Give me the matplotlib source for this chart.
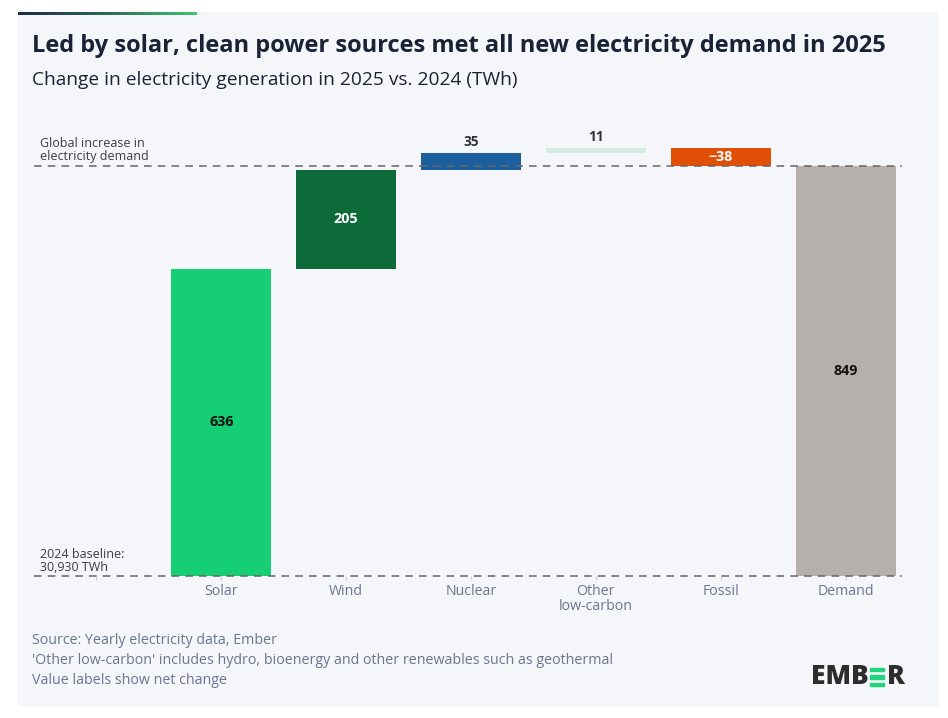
import numpy as np
import matplotlib.pyplot as plt
from matplotlib.patches import Rectangle
from matplotlib.colors import LinearSegmentedColormap

# data
categories = ["", "Solar", "Wind", "Nuclear", "Other\nlow-carbon", "Fossil", "Demand"]
changes = [636, 205, 35, 11, -38]
demand = 849
colors = ["#16cf74", "#0d6b3a", "#1c5f9e", "#d3ece0", "#e04f04", "#b6b0ac"]
label_colors = ["#111111", "#ffffff", "#333333", "#333333", "#ffffff", "#111111"]
label_inside = [True, True, False, False, True, True]

W, H = 948, 718
fig = plt.figure(figsize=(W / 100, H / 100), dpi=100)
fig.patch.set_facecolor("white")

FONT = "Open Sans"
bg = "#f5f6fa"

# panel background
fig.patches.append(Rectangle((18 / W, 1 - 705 / H), (937 - 18) / W, (705 - 12) / H,
                             transform=fig.transFigure, color=bg, zorder=-5))
# gradient accent line on top
grad_ax = fig.add_axes([18 / W, 1 - 15 / H, (197 - 18) / W, 3 / H])
cmap = LinearSegmentedColormap.from_list("acc", ["#1c2a4a", "#2e6a55", "#3cc76f"])
grad_ax.imshow(np.linspace(0, 1, 256)[None, :], aspect="auto", cmap=cmap)
grad_ax.axis("off")

fig.text(32 / W, 1 - 46 / H, "Led by solar, clean power sources met all new electricity demand in 2025",
         fontsize=17, fontweight="bold", color="#1a2236", va="center", family=FONT)
fig.text(32 / W, 1 - 80 / H, "Change in electricity generation in 2025 vs. 2024 (TWh)",
         fontsize=13.8, color="#1a2236", va="center", family=FONT)

# axes: baseline at y px 576, demand line at 166
top_px, base_px, dem_px = 120, 576, 166
scale = (base_px - dem_px) / demand
ax = fig.add_axes([34 / W, 1 - base_px / H, 874 / W, (base_px - top_px) / H])
ax.set_facecolor("none")
ax.set_xlim(-0.5, 6.5)
ax.set_ylim(0, (base_px - top_px) / scale)
for s in ax.spines.values():
    s.set_visible(False)
ax.set_yticks([])

x = np.arange(len(categories))
bottoms = []
cum = 0
for v in changes:
    bottoms.append(min(cum, cum + v))
    cum += v
heights = [abs(v) for v in changes] + [demand]
bottoms.append(0)
values = changes + [demand]

ax.bar(x[1:], heights, bottom=bottoms, width=0.8, color=colors, zorder=2)

for i, (v, b, h) in enumerate(zip(values, bottoms, heights)):
    txt = f"{v}" if v >= 0 else f"\u2212{abs(v)}"
    if label_inside[i]:
        ax.text(x[i + 1], b + h / 2, txt, ha="center", va="center", fontsize=10.3,
                fontweight="bold", color=label_colors[i], family=FONT, zorder=4)
    else:
        ax.text(x[i + 1], b + h + 8, txt, ha="center", va="bottom", fontsize=9.8,
                fontweight="bold", color=label_colors[i], family=FONT, zorder=4)

# reference dashed lines
for yv in (0, demand):
    ax.plot([-0.5, 6.45], [yv, yv], color="#666666", lw=1.1, ls=(0, (5, 4)), zorder=3,
            clip_on=False)

ax.set_xticks(x)
ax.set_xticklabels(categories, fontsize=10.2, color="#6b7590", family=FONT, linespacing=0.95)
ax.tick_params(axis="x", length=3, color="#c8ccd6", pad=3)

ax.text(-0.45, demand + 7, "Global increase in\nelectricity demand", fontsize=9,
        color="#3c3c3c", va="bottom", ha="left", family=FONT, linespacing=1.0)
ax.text(-0.45, 5, "2024 baseline:\n30,930 TWh", fontsize=9,
        color="#3c3c3c", va="bottom", ha="left", family=FONT, linespacing=1.0)

# footer
footer = ["Source: Yearly electricity data, Ember",
          "'Other low-carbon' includes hydro, bioenergy and other renewables such as geothermal",
          "Value labels show net change"]
for k, line in enumerate(footer):
    fig.text(32 / W, 1 - (641 + 20 * k) / H, line, fontsize=10.25, color="#6b7590",
             va="center", family=FONT)

# logo
fig.text(811 / W, 1 - 677 / H, "EMB", fontsize=19, fontweight="heavy", color="#2d2d2d",
         va="center", ha="left", family=FONT)
for dy in (-7.5, 0, 7.5):
    fig.patches.append(Rectangle((870 / W, 1 - (677 + dy + 1.7) / H), 14 / W, 3.5 / H,
                                 transform=fig.transFigure, color="#1fd47a", zorder=3))
fig.text(887 / W, 1 - 677 / H, "R", fontsize=19, fontweight="heavy", color="#2d2d2d",
         va="center", ha="left", family=FONT)

fig.savefig("out.png", dpi=100, facecolor=fig.get_facecolor())
